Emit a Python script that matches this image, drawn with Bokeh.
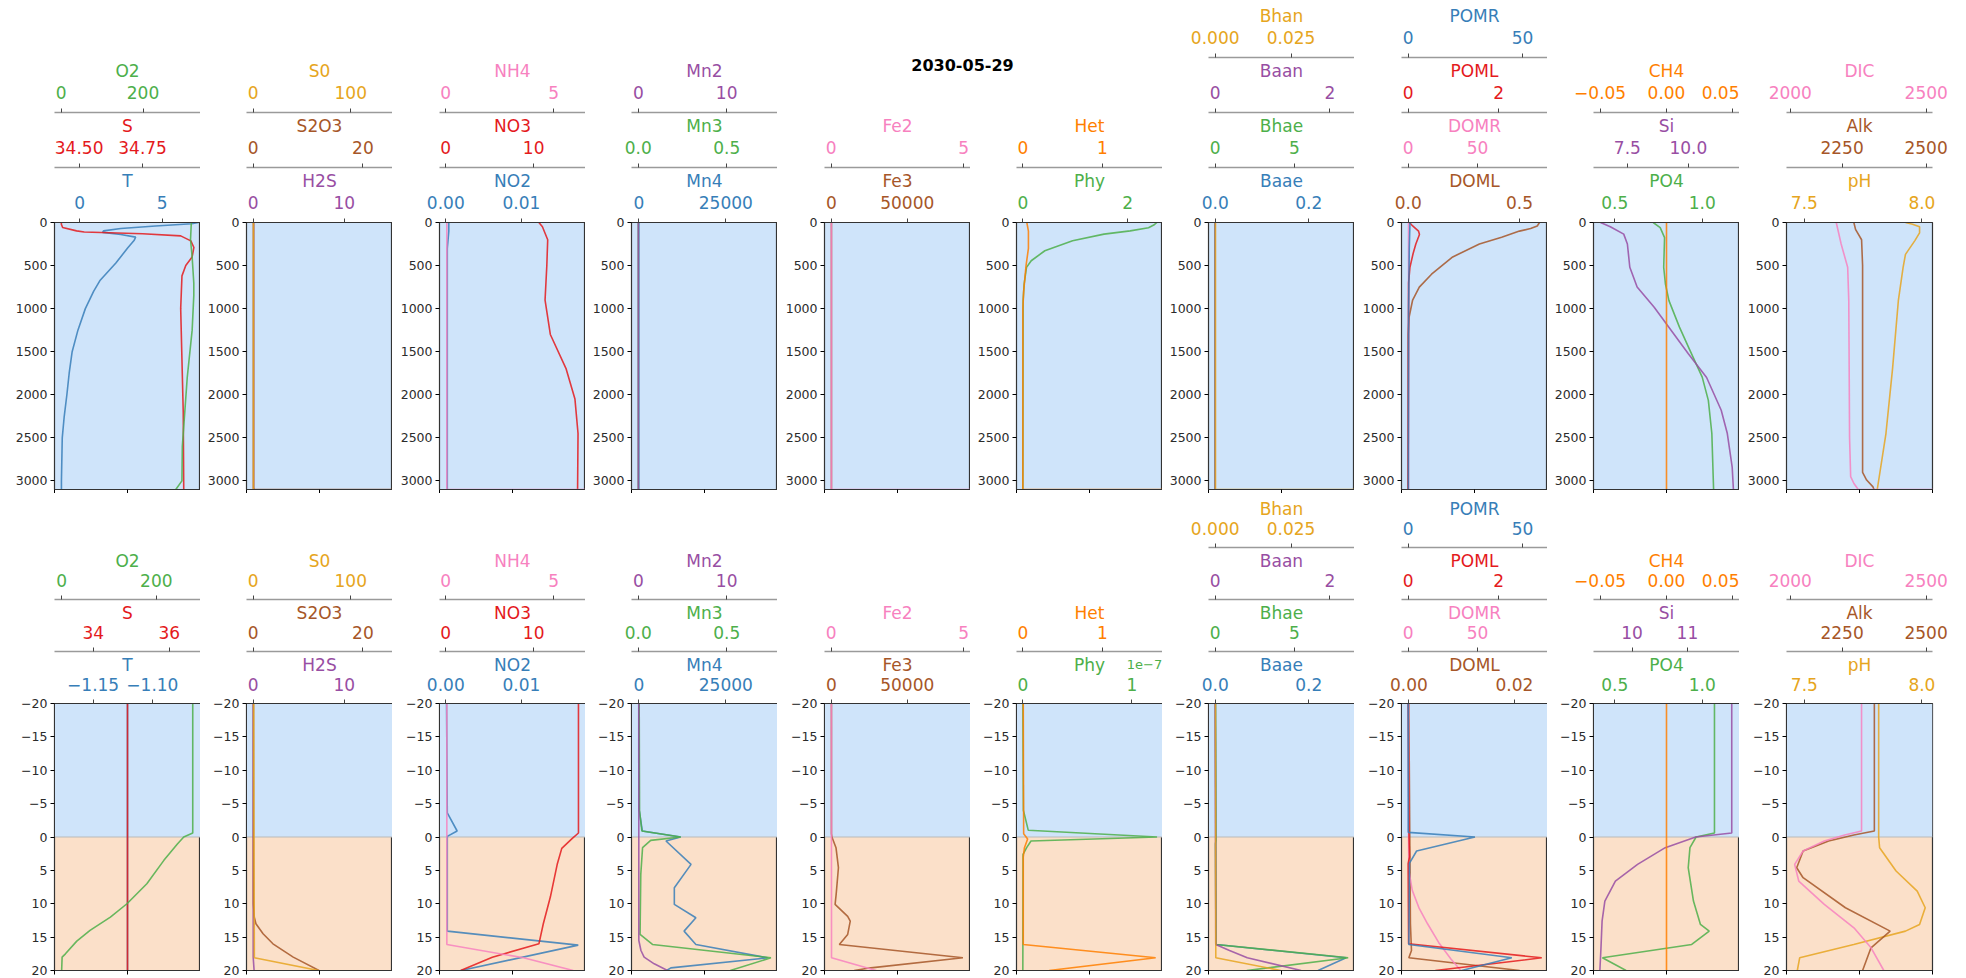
from bokeh.plotting import figure
from bokeh.models import Range1d, LinearAxis, FixedTicker, BoxAnnotation, Span, Label
from bokeh.layouts import row, column
from bokeh.embed import file_html
from bokeh.resources import INLINE

DATE = "2030-05-29"
FONT = "DejaVu Sans"

BLUE = "#377eb8"
RED = "#e41a1c"
GREEN = "#4daf4a"
PURPLE = "#984ea3"
ORANGE = "#ff7f00"
GOLD = "#e6a520"
BROWN = "#a65628"
PINK = "#f781bf"
WATER_BG = "#cfe4fa"
SED_BG = "#fbe0c9"

# ---------------- depth axes ----------------
W_DEPTH_LIM = (3100, 0)          # water column, m (downwards)
W_DEPTH_TICKS = ["0", "500", "1000", "1500", "2000", "2500", "3000"]
S_DEPTH_LIM = (20, -20)          # around the sediment-water interface, cm
S_DEPTH_TICKS = ["−20", "−15", "−10", "−5", "0", "5", "10", "15", "20"]
INTERFACE = 0
BOTTOM_TICKS = [0, 0.5, 1]

# ================= water column profiles (upper row) =================
T_W_Z = [0, 15, 40, 70, 97, 115, 140, 170, 210, 300, 470, 670, 800, 1000, 1250, 1500, 1750, 2000, 2250, 2500, 3000, 3100]
T_W = [7.2, 6.8, 4.6, 2.5, 1.45, 1.4, 2.5, 3.4, 3.3, 2.9, 2.2, 1.25, 0.85, 0.35, -0.1, -0.45, -0.63, -0.77, -0.93, -1.05, -1.1, -1.1]
S_W_Z = [0, 20, 58, 97, 110, 130, 155, 213, 290, 400, 500, 620, 1000, 1600, 2200, 3100]
S_W = [34.43, 34.43, 34.435, 34.49, 34.52, 34.75, 34.9, 34.94, 34.952, 34.945, 34.92, 34.905, 34.9, 34.905, 34.91, 34.912]
O2_W_Z = [0, 200, 400, 700, 850, 1250, 1800, 2600, 3000, 3100]
O2_W = [318, 316, 320, 324, 324, 320, 308, 296, 295, 280]

H2S_W_Z = [0, 3100]
H2S_W = [0.05, 0.05]
S2O3_W_Z = [0, 3099, 3100]
S2O3_W = [0.05, 0.05, 30]
S0_W_Z = [0, 3100]
S0_W = [0.3, 0.3]

NO2_W_Z = [0, 100, 300, 3100]
NO2_W = [0.0004, 0.0004, 0.0002, 0.0002]
NO3_W_Z = [0, 50, 200, 500, 900, 1300, 1700, 2050, 2450, 3100]
NO3_W = [10.6, 11.0, 11.6, 11.5, 11.3, 11.9, 13.7, 14.7, 15.05, 15.0]
NH4_W_Z = [0, 3099, 3100]
NH4_W = [0.05, 0.05, 8.0]

MN4_W_Z = [0, 3100]
MN4_W = [0, 0]
MN3_W_Z = [0, 3100]
MN3_W = [0.0, 0.0]
MN2_W_Z = [0, 3100]
MN2_W = [0.0, 0.0]

FE3_W_Z = [0, 3100]
FE3_W = [0, 0]
FE2_W_Z = [0, 3099, 3100]
FE2_W = [0.01, 0.01, 6.0]

PHY_W_Z = [0, 30, 60, 97, 135, 212, 328, 444, 521, 714, 907, 3100]
PHY_W = [2.56, 2.5, 2.4, 2.05, 1.55, 0.95, 0.42, 0.16, 0.07, 0.025, 0.005, 0.0]
HET_W_Z = [0, 100, 300, 500, 800, 1000, 3099, 3100]
HET_W = [0.05, 0.07, 0.07, 0.04, 0.01, 0.0, 0.0, 2.0]

BAAE_W_Z = [0, 3100]
BAAE_W = [0.0, 0.0]
BHAE_W_Z = [0, 3100]
BHAE_W = [0.0, 0.0]
BAAN_W_Z = [0, 3100]
BAAN_W = [0.0, 0.0]
BHAN_W_Z = [0, 3099, 3100]
BHAN_W = [0.0001, 0.0001, 0.06]

DOML_W_Z = [0, 40, 70, 100, 170, 250, 400, 600, 750, 900, 1100, 1300, 3100]
DOML_W = [0.59, 0.58, 0.55, 0.50, 0.42, 0.32, 0.20, 0.105, 0.05, 0.02, 0.004, 0.0, 0.0]
DOMR_W_Z = [0, 3100]
DOMR_W = [0.3, 0.3]
POML_W_Z = [0, 40, 100, 140, 250, 360, 520, 700, 3100]
POML_W = [0.03, 0.1, 0.23, 0.25, 0.17, 0.11, 0.04, 0.01, 0.0]
POMR_W_Z = [0, 300, 1000, 3100]
POMR_W = [0.8, 0.5, 0.2, 0.1]

PO4_W_Z = [0, 60, 175, 520, 715, 907, 1215, 1485, 1795, 2065, 2450, 3100]
PO4_W = [0.72, 0.76, 0.785, 0.78, 0.79, 0.81, 0.87, 0.93, 1.0, 1.035, 1.055, 1.065]
SI_W_Z = [0, 50, 135, 250, 520, 750, 985, 1255, 1525, 1800, 2180, 2450, 2840, 3100]
SI_W = [6.4, 6.8, 7.35, 7.5, 7.6, 7.9, 8.6, 9.3, 10.0, 10.75, 11.35, 11.6, 11.8, 11.85]
CH4_W_Z = [0, 3100]
CH4_W = [0.0, 0.0]

PH_W_Z = [0, 20, 50, 120, 210, 370, 520, 900, 1700, 2450, 3100]
PH_W = [7.93, 7.96, 7.99, 7.99, 7.97, 7.93, 7.92, 7.90, 7.875, 7.847, 7.81]
ALK_W_Z = [0, 80, 200, 500, 2900, 2990, 3070, 3100]
ALK_W = [2285, 2290, 2308, 2311, 2311, 2323, 2342, 2345]
DIC_W_Z = [0, 250, 520, 900, 1400, 2500, 2950, 3030, 3099, 3100]
DIC_W = [2169, 2187, 2211, 2215, 2216, 2218, 2222, 2234, 2250, 2600]

# ================= sediment profiles (lower row) =================
T_S_Z = [-20, 20]
T_S = [-1.121, -1.121]
S_S_Z = [-20, 20]
S_S = [34.9, 34.9]
O2_S_Z = [-20, -0.6, 0, 1, 3.5, 7, 10, 12, 14, 15.6, 17.5, 18, 20]
O2_S = [277, 277, 258, 245, 216, 180, 138, 103, 60, 32, 8, 1, 0]

H2S_S_Z = [-20, 18, 20]
H2S_S = [0.0, 0.0, 0.1]
S2O3_S_Z = [-20, 10, 12, 13, 14.5, 16, 18, 20]
S2O3_S = [0.05, 0.05, 0.2, 0.5, 1.8, 3.6, 7.3, 12]
S0_S_Z = [-20, 0, 18.1, 20]
S0_S = [0.5, 0.8, 1.2, 67]

NO2_S_Z = [-20, -3.6, -0.9, -0.1, 14.1, 16.2, 20]
NO2_S = [0.0001, 0.0002, 0.0015, 0.0002, 0.0002, 0.0175, 0.002]
NO3_S_Z = [-20, -0.6, 0.2, 1.7, 4, 9, 13, 16, 18, 20]
NO3_S = [15.1, 15.1, 14.4, 13.2, 12.7, 11.9, 11.1, 10.6, 5.3, 1.7]
NH4_S_Z = [-20, 16.1, 18.1, 20]
NH4_S = [0.05, 0.05, 3.6, 5.9]

MN4_S_Z = [-20, -4, -0.9, 0, 0.6, 4.1, 7.6, 10.1, 12.1, 14.1, 16.1, 18.1, 19.6, 20]
MN4_S = [0, 100, 1000, 12000, 7800, 15000, 10200, 10200, 16400, 13000, 16400, 37000, 9200, 8000]
MN3_S_Z = [-20, -4, -0.9, 0, 0.5, 1.6, 5.6, 14.6, 16.1, 18.1, 20]
MN3_S = [0.005, 0.007, 0.02, 0.24, 0.07, 0.024, 0.014, 0.01, 0.08, 0.75, 0.52]
MN2_S_Z = [-20, 15.5, 17, 18, 19, 20]
MN2_S = [0.05, 0.06, 0.3, 0.66, 1.8, 3.3]

FE3_S_Z = [-20, -0.5, 0, 1.6, 4.6, 8.6, 10.1, 11.9, 12.6, 14.6, 16.1, 18.1, 19.6, 20]
FE3_S = [0, 0, 300, 3000, 4600, 3100, 2400, 10700, 12400, 10700, 5200, 86700, 26000, 15000]
FE2_S_Z = [-20, 18.1, 20]
FE2_S = [0.01, 0.015, 1.7]

# phytoplankton below the interface in units of 1e-7
PHY_S_Z = [-20, -4, -1, 0, 0.6, 1.6, 2.6, 20]
PHY_S = [0.0, 0.005, 0.05, 1.23, 0.075, 0.035, 0.002, 0.0]
HET_S_Z = [-20, -0.5, 0.3, 1.6, 3, 16.1, 18.1, 20]
HET_S = [0.005, 0.01, 0.06, 0.02, 0.005, 0.005, 1.67, 0.33]

BAAE_S_Z = [-20, 16.1, 18.1, 20]
BAAE_S = [0.0005, 0.002, 0.28, 0.22]
BHAE_S_Z = [-20, -0.5, 0.5, 1, 16.1, 18.1, 20]
BHAE_S = [0.02, 0.05, 0.06, 0.02, 0.05, 8.4, 2.0]
BAAN_S_Z = [-20, 16.1, 17, 18.1, 20]
BAAN_S = [0.0, 0.01, 0.25, 0.56, 1.5]
BHAN_S_Z = [-20, 18.1, 20]
BHAN_S = [0.0001, 0.0002, 0.0216]

DOML_S_Z = [-20, 13, 17, 18.1, 20]
DOML_S = [0.0, 0.0003, 0.0005, 0.0, 0.021]
DOMR_S_Z = [-20, 0, 5, 8, 10.7, 13, 15.8, 18.3, 20]
DOMR_S = [0.3, 0.3, 0.5, 3, 8, 14, 22, 31, 38]
POML_S_Z = [-20, 0, 3, 4, 16, 18.1, 20]
POML_S = [0.0, 0.02, 0.03, 0.0, 0.01, 2.95, 0.6]
POMR_S_Z = [-20, -0.7, 0, 2.1, 3.9, 16.1, 18.1, 20]
POMR_S = [0.02, 0.05, 29.2, 3.7, 0.6, 0.3, 45.3, 23.4]

PO4_S_Z = [-20, -0.6, 0, 1.6, 4.6, 9.6, 13.1, 14.1, 16.1, 18.1, 20]
PO4_S = [1.07, 1.07, 0.965, 0.93, 0.92, 0.95, 0.99, 1.04, 0.94, 0.43, 0.565]
SI_S_Z = [-20, -0.6, 0, 1.6, 4.1, 6.6, 9.6, 12.6, 16.6, 20]
SI_S = [11.8, 11.8, 11.15, 10.6, 10.1, 9.7, 9.51, 9.46, 9.44, 9.42]
CH4_S_Z = [-20, 20]
CH4_S = [0.0, 0.0]

PH_S_Z = [-20, 0, 1.6, 5.1, 8.1, 10.6, 13.1, 14.1, 16.1, 18.1, 20]
PH_S = [7.816, 7.816, 7.82, 7.89, 7.98, 8.014, 7.99, 7.93, 7.71, 7.48, 7.47]
ALK_S_Z = [-20, -0.9, -0.3, 0.6, 2.1, 4.6, 6.1, 10.6, 14.1, 16.6, 20]
ALK_S = [2346, 2346, 2285, 2210, 2134, 2115, 2134, 2260, 2393, 2336, 2311]
DIC_S_Z = [-20, -0.9, -0.3, 0.6, 2.1, 4.1, 6.6, 10.1, 13.6, 16.6, 20]
DIC_S = [2262, 2262, 2200, 2125, 2047, 2016, 2031, 2125, 2234, 2297, 2344]

# ================= concentration axes: limits and tick labels =================
T_W_LIM, T_W_TICKS = (-1.52, 7.33), ["0", "5"]
T_S_LIM, T_S_TICKS = (-1.1826, -1.0594), ["−1.15", "−1.10"]
S_W_LIM, S_W_TICKS = (34.403, 34.978), ["34.50", "34.75"]
S_S_LIM, S_S_TICKS = (32.98, 36.82), ["34", "36"]
O2_W_LIM, O2_W_TICKS = (-16.3, 340.4), ["0", "200"]
O2_S_LIM, O2_S_TICKS = (-15.1, 293.4), ["0", "200"]
H2S_LIM, H2S_TICKS = (-0.735, 15.3), ["0", "10"]
S2O3_LIM, S2O3_TICKS = (-1.22, 25.4), ["0", "20"]
S0_LIM, S0_TICKS = (-6.85, 142.8), ["0", "100"]
NO2_LIM, NO2_TICKS = (-0.00083, 0.01846), ["0.00", "0.01"]
NO3_LIM, NO3_TICKS = (-0.71, 15.9), ["0", "10"]
NH4_LIM, NH4_TICKS = (-0.29, 6.47), ["0", "5"]
MN4_LIM, MN4_TICKS = (-2107, 39847), ["0", "25000"]
MN3_LIM, MN3_TICKS = (-0.0385, 0.787), ["0.0", "0.5"]
MN2_LIM, MN2_TICKS = (-0.77, 15.75), ["0", "10"]
FE3_LIM, FE3_TICKS = (-4585, 91703), ["0", "50000"]
FE2_LIM, FE2_TICKS = (-0.25, 5.26), ["0", "5"]
PHY_W_LIM, PHY_W_TICKS = (-0.121, 2.667), ["0", "2"]
PHY_S_LIM, PHY_S_TICKS = (-0.058, 1.28), ["0", "1"]
PHY_S_SCALE = "1e−7"
HET_LIM, HET_TICKS = (-0.08, 1.756), ["0", "1"]
BAAE_LIM, BAAE_TICKS = (-0.0143, 0.2979), ["0.0", "0.2"]
BHAE_LIM, BHAE_TICKS = (-0.42, 8.80), ["0", "5"]
BAAN_LIM, BAAN_TICKS = (-0.1166, 2.431), ["0", "2"]
BHAN_LIM, BHAN_TICKS = (-0.0022, 0.0459), ["0.000", "0.025"]
DOML_W_LIM, DOML_W_TICKS = (-0.030, 0.626), ["0.0", "0.5"]
DOML_S_LIM, DOML_S_TICKS = (-0.00139, 0.02627), ["0.00", "0.02"]
DOMR_LIM, DOMR_TICKS = (-4.78, 100.5), ["0", "50"]
POML_LIM, POML_TICKS = (-0.1465, 3.077), ["0", "2"]
POMR_LIM, POMR_TICKS = (-2.9, 60.9), ["0", "50"]
PO4_LIM, PO4_TICKS = (0.379, 1.213), ["0.5", "1.0"]
SI_W_LIM, SI_W_TICKS = (6.11, 12.1), ["7.5", "10.0"]
SI_S_LIM, SI_S_TICKS = (9.305, 11.94), ["10", "11"]
CH4_LIM, CH4_TICKS = (-0.055, 0.055), ["−0.05", "0.00", "0.05"]
PH_LIM, PH_TICKS = (7.424, 8.045), ["7.5", "8.0"]
ALK_LIM, ALK_TICKS = (2084.6, 2519), ["2250", "2500"]
DIC_LIM, DIC_TICKS = (1986, 2523), ["2000", "2500"]


def tier(name, color, lim, ticks, z, v):
    return {"name": name, "color": color, "lim": lim, "ticks": ticks, "z": z, "v": v}


# each panel lists its axes from the frame outwards
WATER_PANELS = [
    [tier("T", BLUE, T_W_LIM, T_W_TICKS, T_W_Z, T_W),
     tier("S", RED, S_W_LIM, S_W_TICKS, S_W_Z, S_W),
     tier("O2", GREEN, O2_W_LIM, O2_W_TICKS, O2_W_Z, O2_W)],
    [tier("H2S", PURPLE, H2S_LIM, H2S_TICKS, H2S_W_Z, H2S_W),
     tier("S2O3", BROWN, S2O3_LIM, S2O3_TICKS, S2O3_W_Z, S2O3_W),
     tier("S0", GOLD, S0_LIM, S0_TICKS, S0_W_Z, S0_W)],
    [tier("NO2", BLUE, NO2_LIM, NO2_TICKS, NO2_W_Z, NO2_W),
     tier("NO3", RED, NO3_LIM, NO3_TICKS, NO3_W_Z, NO3_W),
     tier("NH4", PINK, NH4_LIM, NH4_TICKS, NH4_W_Z, NH4_W)],
    [tier("Mn4", BLUE, MN4_LIM, MN4_TICKS, MN4_W_Z, MN4_W),
     tier("Mn3", GREEN, MN3_LIM, MN3_TICKS, MN3_W_Z, MN3_W),
     tier("Mn2", PURPLE, MN2_LIM, MN2_TICKS, MN2_W_Z, MN2_W)],
    [tier("Fe3", BROWN, FE3_LIM, FE3_TICKS, FE3_W_Z, FE3_W),
     tier("Fe2", PINK, FE2_LIM, FE2_TICKS, FE2_W_Z, FE2_W)],
    [tier("Phy", GREEN, PHY_W_LIM, PHY_W_TICKS, PHY_W_Z, PHY_W),
     tier("Het", ORANGE, HET_LIM, HET_TICKS, HET_W_Z, HET_W)],
    [tier("Baae", BLUE, BAAE_LIM, BAAE_TICKS, BAAE_W_Z, BAAE_W),
     tier("Bhae", GREEN, BHAE_LIM, BHAE_TICKS, BHAE_W_Z, BHAE_W),
     tier("Baan", PURPLE, BAAN_LIM, BAAN_TICKS, BAAN_W_Z, BAAN_W),
     tier("Bhan", GOLD, BHAN_LIM, BHAN_TICKS, BHAN_W_Z, BHAN_W)],
    [tier("DOML", BROWN, DOML_W_LIM, DOML_W_TICKS, DOML_W_Z, DOML_W),
     tier("DOMR", PINK, DOMR_LIM, DOMR_TICKS, DOMR_W_Z, DOMR_W),
     tier("POML", RED, POML_LIM, POML_TICKS, POML_W_Z, POML_W),
     tier("POMR", BLUE, POMR_LIM, POMR_TICKS, POMR_W_Z, POMR_W)],
    [tier("PO4", GREEN, PO4_LIM, PO4_TICKS, PO4_W_Z, PO4_W),
     tier("Si", PURPLE, SI_W_LIM, SI_W_TICKS, SI_W_Z, SI_W),
     tier("CH4", ORANGE, CH4_LIM, CH4_TICKS, CH4_W_Z, CH4_W)],
    [tier("pH", GOLD, PH_LIM, PH_TICKS, PH_W_Z, PH_W),
     tier("Alk", BROWN, ALK_LIM, ALK_TICKS, ALK_W_Z, ALK_W),
     tier("DIC", PINK, DIC_LIM, DIC_TICKS, DIC_W_Z, DIC_W)],
]

SED_PANELS = [
    [tier("T", BLUE, T_S_LIM, T_S_TICKS, T_S_Z, T_S),
     tier("S", RED, S_S_LIM, S_S_TICKS, S_S_Z, S_S),
     tier("O2", GREEN, O2_S_LIM, O2_S_TICKS, O2_S_Z, O2_S)],
    [tier("H2S", PURPLE, H2S_LIM, H2S_TICKS, H2S_S_Z, H2S_S),
     tier("S2O3", BROWN, S2O3_LIM, S2O3_TICKS, S2O3_S_Z, S2O3_S),
     tier("S0", GOLD, S0_LIM, S0_TICKS, S0_S_Z, S0_S)],
    [tier("NO2", BLUE, NO2_LIM, NO2_TICKS, NO2_S_Z, NO2_S),
     tier("NO3", RED, NO3_LIM, NO3_TICKS, NO3_S_Z, NO3_S),
     tier("NH4", PINK, NH4_LIM, NH4_TICKS, NH4_S_Z, NH4_S)],
    [tier("Mn4", BLUE, MN4_LIM, MN4_TICKS, MN4_S_Z, MN4_S),
     tier("Mn3", GREEN, MN3_LIM, MN3_TICKS, MN3_S_Z, MN3_S),
     tier("Mn2", PURPLE, MN2_LIM, MN2_TICKS, MN2_S_Z, MN2_S)],
    [tier("Fe3", BROWN, FE3_LIM, FE3_TICKS, FE3_S_Z, FE3_S),
     tier("Fe2", PINK, FE2_LIM, FE2_TICKS, FE2_S_Z, FE2_S)],
    [tier("Phy", GREEN, PHY_S_LIM, PHY_S_TICKS, PHY_S_Z, PHY_S),
     tier("Het", ORANGE, HET_LIM, HET_TICKS, HET_S_Z, HET_S)],
    [tier("Baae", BLUE, BAAE_LIM, BAAE_TICKS, BAAE_S_Z, BAAE_S),
     tier("Bhae", GREEN, BHAE_LIM, BHAE_TICKS, BHAE_S_Z, BHAE_S),
     tier("Baan", PURPLE, BAAN_LIM, BAAN_TICKS, BAAN_S_Z, BAAN_S),
     tier("Bhan", GOLD, BHAN_LIM, BHAN_TICKS, BHAN_S_Z, BHAN_S)],
    [tier("DOML", BROWN, DOML_S_LIM, DOML_S_TICKS, DOML_S_Z, DOML_S),
     tier("DOMR", PINK, DOMR_LIM, DOMR_TICKS, DOMR_S_Z, DOMR_S),
     tier("POML", RED, POML_LIM, POML_TICKS, POML_S_Z, POML_S),
     tier("POMR", BLUE, POMR_LIM, POMR_TICKS, POMR_S_Z, POMR_S)],
    [tier("PO4", GREEN, PO4_LIM, PO4_TICKS, PO4_S_Z, PO4_S),
     tier("Si", PURPLE, SI_S_LIM, SI_S_TICKS, SI_S_Z, SI_S),
     tier("CH4", ORANGE, CH4_LIM, CH4_TICKS, CH4_S_Z, CH4_S)],
    [tier("pH", GOLD, PH_LIM, PH_TICKS, PH_S_Z, PH_S),
     tier("Alk", BROWN, ALK_LIM, ALK_TICKS, ALK_S_Z, ALK_S),
     tier("DIC", PINK, DIC_LIM, DIC_TICKS, DIC_S_Z, DIC_S)],
]

# ---------------- page geometry ----------------
FRAME_W = 146
FRAME_H = 267
LEFT_BORDERS = [54, 46, 47, 46, 47, 46, 46, 47, 46, 47]
LAST_RIGHT = 34
TOP_H = 493
TOP_BORDER_TOP = 222
BOT_H = 978 - TOP_H
BOT_BORDER_TOP = 210
TITLE_H = 100
# standoffs of tick labels and scale names (upper row has a little more room)
LABEL_STANDOFF_TOP, NAME_STANDOFF_TOP = 10, 2
LABEL_STANDOFF_BOT, NAME_STANDOFF_BOT = 9, 0
# exponent note of the phytoplankton scale, drawn beside the axis name
SCALE_NOTE_X = 0.877
SCALE_NOTE_STANDOFF = -17


def num(label):
    return float(label.replace("−", "-"))


def style_tier_axis(ax, color, first, label_standoff, name_standoff):
    ax.axis_line_color = "#333333" if first else "#9a9a9a"
    ax.axis_line_width = 1.2 if first else 1.4
    ax.major_tick_line_color = "#444444"
    ax.major_tick_out = 4
    ax.major_tick_in = 0
    ax.minor_tick_line_color = None
    ax.major_label_standoff = label_standoff
    ax.major_label_text_font = FONT
    ax.major_label_text_font_size = "17px"
    ax.major_label_text_color = color
    ax.axis_label_standoff = name_standoff
    ax.axis_label_text_font = FONT
    ax.axis_label_text_font_size = "17px"
    ax.axis_label_text_font_style = "normal"
    ax.axis_label_text_color = color


def note_axis(text, color):
    return LinearAxis(ticker=FixedTicker(ticks=[SCALE_NOTE_X]),
                      major_label_overrides={SCALE_NOTE_X: text},
                      axis_line_color=None, major_tick_line_color=None, major_tick_out=0,
                      major_tick_in=0, minor_tick_line_color=None,
                      major_label_standoff=SCALE_NOTE_STANDOFF,
                      major_label_text_font=FONT, major_label_text_font_size="13px",
                      major_label_text_color=color)


def make_panel(tiers, water, width, height, b_left, b_right, b_top, b_bottom, note=None):
    ylim = W_DEPTH_LIM if water else S_DEPTH_LIM
    yticks = W_DEPTH_TICKS if water else S_DEPTH_TICKS
    l_off = LABEL_STANDOFF_TOP if water else LABEL_STANDOFF_BOT
    n_off = NAME_STANDOFF_TOP if water else NAME_STANDOFF_BOT
    p = figure(width=width, height=height, x_range=Range1d(0, 1), y_range=Range1d(*ylim),
               toolbar_location=None, output_backend="svg",
               min_border_left=b_left, min_border_right=b_right,
               min_border_top=b_top, min_border_bottom=b_bottom)
    p.grid.visible = False
    p.border_fill_color = "white"
    p.outline_line_color = "#333333"
    p.outline_line_width = 1.2
    p.background_fill_color = WATER_BG if water else SED_BG
    if not water:
        p.add_layout(BoxAnnotation(bottom=INTERFACE, fill_color=WATER_BG, fill_alpha=1.0,
                                   line_color=None, level="underlay"))
        p.add_layout(Span(location=INTERFACE, dimension="width", line_color="#b9b9b9",
                          line_width=1.2, level="underlay"))

    ya = p.yaxis[0]
    ya.ticker = FixedTicker(ticks=[num(t) for t in yticks])
    ya.major_label_overrides = {num(t): t for t in yticks}
    ya.major_label_text_font = FONT
    ya.major_label_text_font_size = "12.5px"
    ya.major_label_text_color = "#2b2b2b"
    ya.axis_line_color = "#333333"
    ya.major_tick_out = 4
    ya.major_tick_in = 0
    ya.minor_tick_line_color = None
    ya.major_label_standoff = 3

    # bottom edge carries bare ticks only
    xa = p.xaxis[0]
    xa.ticker = FixedTicker(ticks=BOTTOM_TICKS)
    xa.major_label_text_color = None
    xa.major_label_text_font_size = "1px"
    xa.major_label_standoff = 0
    xa.major_tick_out = 4
    xa.major_tick_in = 0
    xa.minor_tick_line_color = None
    xa.axis_line_color = "#333333"

    for k, t in enumerate(tiers):
        p.extra_x_ranges[t["name"]] = Range1d(*t["lim"])
        vals = [num(s) for s in t["ticks"]]
        ax = LinearAxis(x_range_name=t["name"], axis_label=t["name"],
                        ticker=FixedTicker(ticks=vals),
                        major_label_overrides=dict(zip(vals, t["ticks"])))
        style_tier_axis(ax, t["color"], k == 0, l_off, n_off)
        p.add_layout(ax, "above")
        if k == 0 and note is not None:
            p.add_layout(note_axis(note, t["color"]), "above")

    for t in tiers:
        p.line(x=t["v"], y=t["z"], x_range_name=t["name"], line_color=t["color"],
               line_width=1.6, line_alpha=0.85)
    return p


def widths():
    out = []
    for i, bl in enumerate(LEFT_BORDERS):
        w = bl + FRAME_W + (LAST_RIGHT if i == len(LEFT_BORDERS) - 1 else 0)
        out.append(w)
    return out


W = widths()
n = len(LEFT_BORDERS)

top_figs = []
for i, tiers in enumerate(WATER_PANELS):
    br = LAST_RIGHT if i == n - 1 else 0
    in_title_block = i in (4, 5)
    h = TOP_H - TITLE_H if in_title_block else TOP_H
    bt = TOP_BORDER_TOP - TITLE_H if in_title_block else TOP_BORDER_TOP
    top_figs.append(make_panel(tiers, True, W[i], h, LEFT_BORDERS[i], br, bt,
                               TOP_H - TOP_BORDER_TOP - FRAME_H))

bot_figs = []
for i, tiers in enumerate(SED_PANELS):
    br = LAST_RIGHT if i == n - 1 else 0
    note = PHY_S_SCALE if tiers[0]["name"] == "Phy" else None
    bot_figs.append(make_panel(tiers, False, W[i], BOT_H, LEFT_BORDERS[i], br, BOT_BORDER_TOP,
                               BOT_H - BOT_BORDER_TOP - FRAME_H, note))

# date heading spanning the iron and plankton panels
title_w = W[4] + W[5]
title_fig = figure(width=title_w, height=TITLE_H, x_range=Range1d(0, 1), y_range=Range1d(0, 1),
                   x_axis_location=None, y_axis_location=None, min_border=0,
                   toolbar_location=None, output_backend="svg")
title_fig.grid.visible = False
title_fig.outline_line_color = None
title_fig.background_fill_color = "white"
title_fig.border_fill_color = "white"
title_fig.add_layout(Label(x=185, y=TITLE_H - 64, x_units="screen", y_units="screen",
                           text=DATE, text_align="center", text_baseline="middle",
                           text_font=FONT, text_font_size="16px", text_font_style="bold",
                           text_color="black"))

top_row = row(top_figs[0], top_figs[1], top_figs[2], top_figs[3],
              column(title_fig, row(top_figs[4], top_figs[5])),
              top_figs[6], top_figs[7], top_figs[8], top_figs[9])
bot_row = row(*bot_figs)
layout = column(top_row, bot_row)

open("out.html", "w").write(file_html(layout, INLINE, "profiles"))
